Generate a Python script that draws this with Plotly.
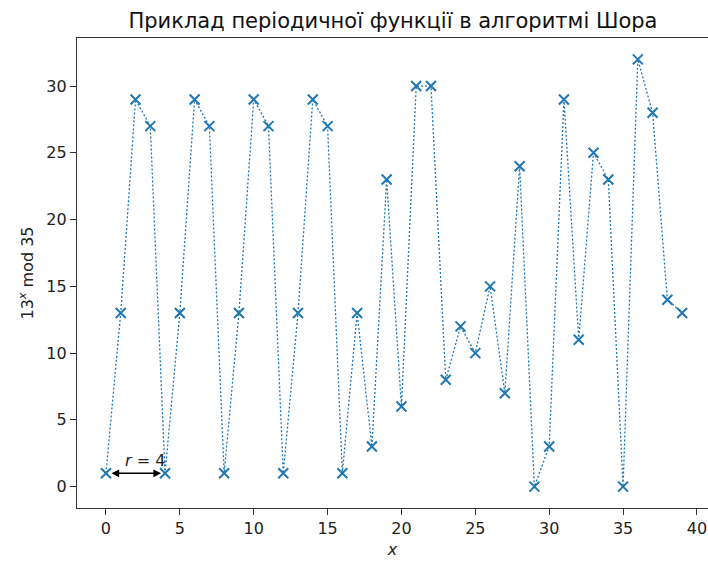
import plotly.graph_objects as go

x_vals = list(range(40))
y_vals = [1, 13, 29, 27, 1, 13, 29, 27, 1, 13, 29, 27, 1, 13, 29, 27, 1, 13, 3, 23,
          6, 30, 30, 8, 12, 10, 15, 7, 24, 0, 3, 29, 11, 25, 23, 0, 32, 28, 14, 13]
x_ticks = [0, 5, 10, 15, 20, 25, 30, 35, 40]
y_ticks = [0, 5, 10, 15, 20, 25, 30]
period_start, period_end, period_y = 0, 4, 1

blue = "#1f77b4"
fig = go.Figure()
fig.add_trace(go.Scatter(
    x=x_vals, y=y_vals, mode="lines+markers",
    line=dict(color=blue, width=1.3, dash="2px,2px"),
    marker=dict(symbol="x-thin-open", size=10, color=blue, line=dict(color=blue, width=2)),
    showlegend=False,
))

fig.add_annotation(
    x=period_end, y=period_y, ax=period_start, ay=period_y,
    xref="x", yref="y", axref="x", ayref="y",
    showarrow=True, arrowhead=2, arrowside="end+start", arrowsize=1.1, arrowwidth=1.4,
    arrowcolor="black", standoff=4, startstandoff=4, text="",
)
fig.add_annotation(
    x=(period_start + period_end) / 2, y=period_y, xref="x", yref="y",
    text="<i>r</i> = 4", showarrow=False, yanchor="bottom", yshift=1, xshift=9,
    font=dict(size=16, color="#222", family="DejaVu Sans"),
)

axis_common = dict(
    showgrid=False, zeroline=False, showline=True, linecolor="#333", linewidth=1.3,
    ticks="outside", ticklen=6, tickcolor="#333", tickwidth=1.3,
    tickfont=dict(size=16, color="#222", family="DejaVu Sans"),
)
fig.update_xaxes(range=[-1.96, 40.75], tickvals=x_ticks, mirror=True,
                 title=dict(text="<i>x</i>", font=dict(size=16, color="#222", family="DejaVu Sans"), standoff=6),
                 **axis_common)
fig.update_yaxes(range=[-1.6, 33.6], tickvals=y_ticks, mirror=False,
                 title=dict(text="13<sup><i>x</i></sup> mod 35", font=dict(size=16, color="#222", family="DejaVu Sans"), standoff=8),
                 **axis_common)

fig.update_layout(
    width=708, height=561,
    margin=dict(l=77, r=0, t=38, b=53),
    paper_bgcolor="white", plot_bgcolor="white",
    title=dict(text="Приклад періодичної функції в алгоритмі Шора", x=0.555, xanchor="center",
               y=0.963, yanchor="middle",
               font=dict(size=21, color="#111", family="DejaVu Sans")),
    font=dict(family="DejaVu Sans"),
)

fig.write_html("out.html")
